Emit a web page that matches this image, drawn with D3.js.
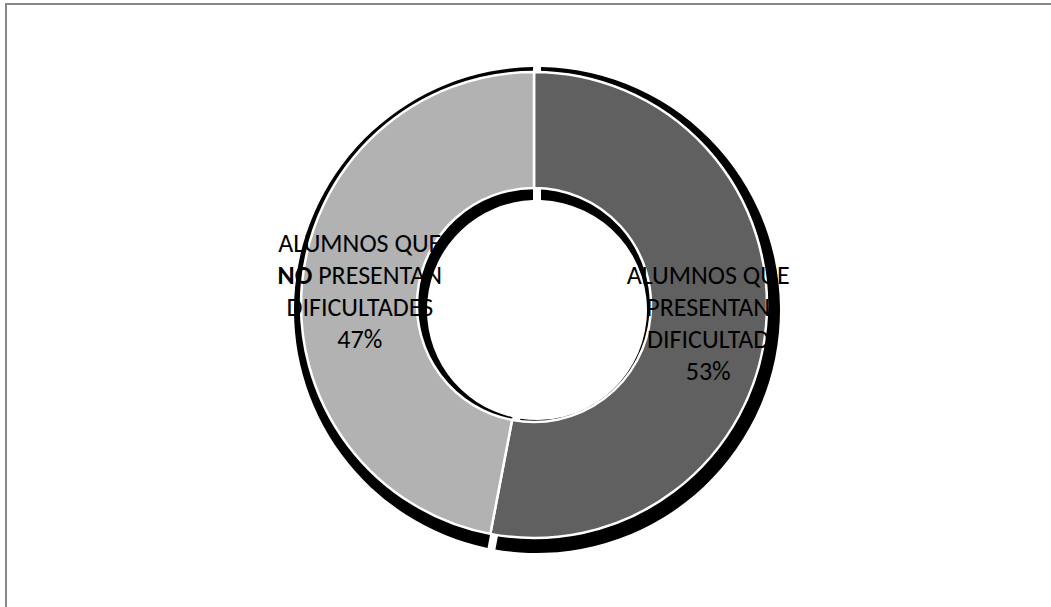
<!DOCTYPE html>
<html>
<head>
<meta charset="utf-8">
<script src="https://cdn.jsdelivr.net/npm/d3@7"></script>
<style>
  html, body { margin: 0; padding: 0; background: #fff; }
  svg { display: block; }
</style>
</head>
<body>
<svg id="chart" width="1051" height="607"></svg>
<script>
// ---- data ----
const categories = ["ALUMNOS QUE PRESENTAN DIFICULTAD", "ALUMNOS QUE NO PRESENTAN DIFICULTADES"];
const values = [53, 47];
const colors = ["#606060", "#b2b2b2"];
// label lines: each line is a list of [text, bold] runs
const labelLines = [
  [[["ALUMNOS QUE", false]], [["PRESENTAN", false]], [["DIFICULTAD", false]], [["53%", false]]],
  [[["ALUMNOS QUE", false]], [["NO", true], [" PRESENTAN", false]], [["DIFICULTADES", false]], [["47%", false]]]
];

const svg = d3.select("#chart");

// chart area border
svg.append("rect")
  .attr("x", 6).attr("y", 4)
  .attr("width", 1060).attr("height", 620)
  .attr("fill", "#fff")
  .attr("stroke", "#888").attr("stroke-width", 2);

const cx = 534, cy = 305, R = 233, r = 117;

const pie = d3.pie().sort(null).value(d => d);
const arcs = pie(values);

const arc = d3.arc().innerRadius(r).outerRadius(R);
const shadowArc = d3.arc().innerRadius(110).outerRadius(243).padAngle(0.03);

// shadow
svg.append("g")
  .attr("transform", `translate(${cx + 3},${cy + 5})`)
  .selectAll("path")
  .data(arcs)
  .join("path")
  .attr("d", shadowArc)
  .attr("fill", "#000");

// slices
const g = svg.append("g").attr("transform", `translate(${cx},${cy})`);
g.selectAll("path")
  .data(arcs)
  .join("path")
  .attr("d", arc)
  .attr("fill", (d, i) => colors[i])
  .attr("stroke", "#fff")
  .attr("stroke-width", 2.5);

// labels
const lineH = 32;
arcs.forEach((d, i) => {
  const [x, y] = arc.centroid(d);
  const t = g.append("text")
    .attr("text-anchor", "middle")
    .attr("font-family", "Carlito, Calibri, Lato, sans-serif")
    .attr("font-size", 26)
    .attr("fill", "#000");
  labelLines[i].forEach((runs, li) => {
    runs.forEach((run, ri) => {
      const ts = t.append("tspan")
        .text(run[0])
        .attr("font-weight", run[1] ? "bold" : "normal");
      if (ri === 0) ts.attr("x", x).attr("y", y - 37 + li * lineH);
    });
  });
});
</script>
</body>
</html>
